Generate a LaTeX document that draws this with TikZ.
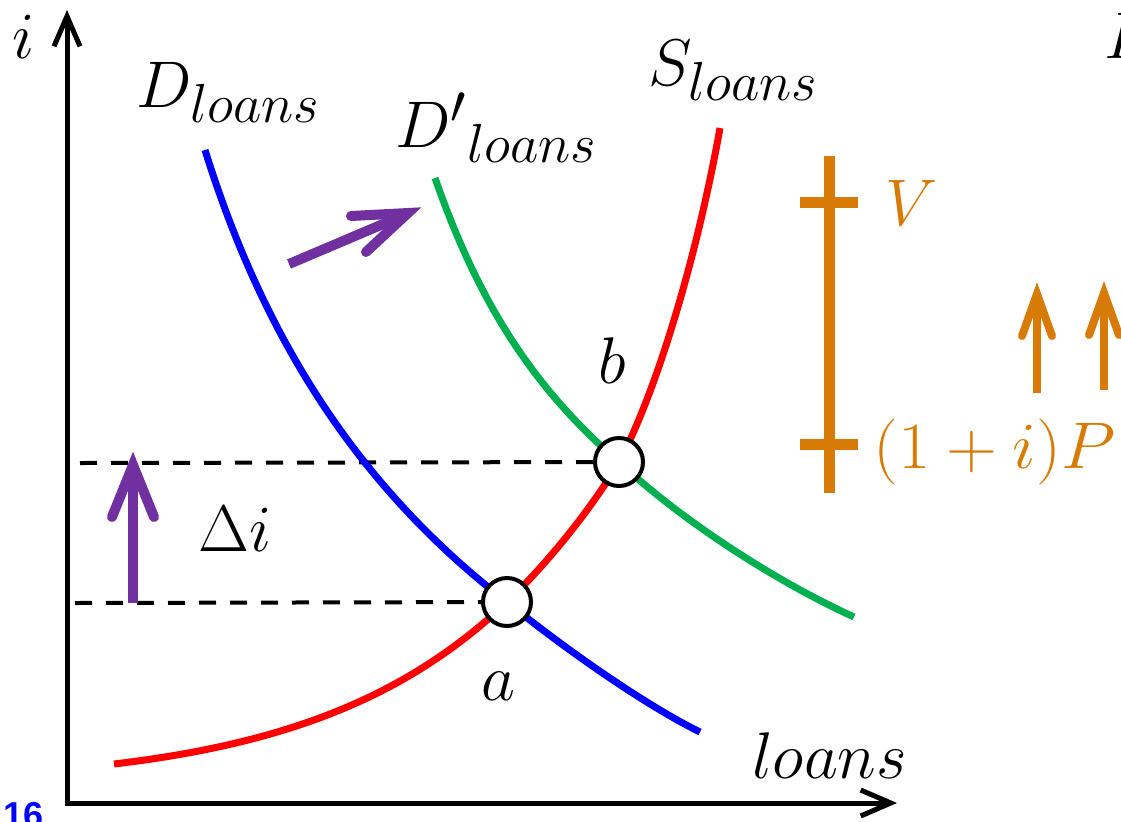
\documentclass[tikz,border=0pt]{standalone}
\usepackage{graphicx}
\usepackage[no-math]{fontspec}
\newfontfamily\numfont{Liberation Sans}
\usetikzlibrary{arrows.meta}
\definecolor{cblue}{RGB}{0,0,255}
\definecolor{cred}{RGB}{255,0,0}
\definecolor{cgreen}{RGB}{0,176,80}
\definecolor{corange}{RGB}{216,123,6}
\definecolor{cpurple}{RGB}{112,48,160}
\definecolor{cnum}{RGB}{0,0,255}
\newcommand{\lblmath}[1]{\scalebox{1.326}{\Huge$#1$}}
\tikzset{
  lbl/.style={inner sep=0pt, anchor=base west},
  axisline/.style={line width=2.5pt, line join=miter,
    {Straight Barb[length=15pt,width=13pt]}-{Straight Barb[length=15pt,width=13pt]}},
  curve/.style={line width=3.5pt},
  dashline/.style={line width=2pt, dash pattern=on 8.5pt off 7pt},
  eqpt/.style={circle, draw=black, fill=white, line width=2pt, minimum size=24pt, inner sep=0pt},
  fatshaft/.style={line width=5pt, color=cpurple},
  fathead/.style={line width=5pt, color=cpurple, line cap=round, line join=miter},
  orshaft/.style={line width=4pt, color=corange},
  orhead/.style={line width=4pt, color=corange, line cap=round, line join=miter},
  orbar/.style={line width=5.5pt, color=corange},
}
\begin{document}
\begin{tikzpicture}[x=0.5pt,y=-0.5pt]
\useasboundingbox (0,0) rectangle (1121,821);

% axes
\coordinate (ytop) at (67,10);
\coordinate (orig) at (67,803);
\coordinate (xend) at (897,803);
\draw[axisline] (ytop) -- (orig) -- (xend);

% axis labels
\node[lbl] (ilab) at (12,58) {\lblmath{i}};
\node[lbl] (xlab) at (752,778) {\lblmath{loans}};

% equilibrium points
\coordinate (A) at (507,602);
\coordinate (B) at (619,462);

% dashed guide lines
\coordinate (dA) at (75,603);
\coordinate (dB) at (80,463);
\draw[dashline] (dA) -- (A);
\draw[dashline] (dB) -- (B);

% demand D (blue)
\draw[curve, cblue] (205,150) .. controls (266,346) and (364,492) .. (A)
  .. controls (574,656) and (651,708) .. (700,732);
% demand D' (green)
\draw[curve, cgreen] (435,178) .. controls (478,301) and (532,387) .. (B)
  .. controls (681,520) and (775,581) .. (854,617);
% supply S (red)
\draw[curve, cred] (114,764) .. controls (292,743) and (410,694) .. (A)
  .. controls (549,562) and (594,505) .. (B)
  .. controls (655,395) and (696,262) .. (720,128);

\node[eqpt] (pa) at (A) {};
\node[eqpt] (pb) at (B) {};

% curve labels
\node[lbl] (dlab) at (136,107) {\lblmath{D_{loans}}};
\node[lbl] (dplab) at (395,147) {\lblmath{{D'}_{loans}}};
\node[lbl] (slab) at (648,85) {\lblmath{S_{loans}}};
\node[lbl, anchor=base] (alab) at (498,700) {\lblmath{a}};
\node[lbl, anchor=base] (blab) at (612,383) {\lblmath{b}};
\node[lbl] (dilab) at (198,551) {\lblmath{\Delta i}};

% purple vertical arrow
\coordinate (v0) at (133,603);
\coordinate (v1) at (133,472);
\coordinate (vt) at (133,465);
\coordinate (vb1) at (112,517);
\coordinate (vb2) at (154,517);
\draw[fatshaft] (v0) -- (v1);
\draw[fathead] (vb1) -- (vt) -- (vb2);

% purple diagonal arrow
\coordinate (g0) at (289,264);
\coordinate (g1) at (402,216);
\coordinate (gt) at (408,213);
\coordinate (gb1) at (351,216);
\coordinate (gb2) at (366,252);
\draw[fatshaft] (g0) -- (g1);
\draw[fathead] (gb1) -- (gt) -- (gb2);

% orange bar
\coordinate (ob0) at (829,156);
\coordinate (ob1) at (829,493);
\draw[orbar] (ob0) -- (ob1);
\coordinate (ot1a) at (800,202);
\coordinate (ot1b) at (858,202);
\coordinate (ot2a) at (800,444);
\coordinate (ot2b) at (858,444);
\draw[orbar] (ot1a) -- (ot1b);
\draw[orbar] (ot2a) -- (ot2b);
\node[lbl, text=corange] (vlab) at (885,225) {\lblmath{V}};
\node[lbl, text=corange] (plab) at (873,468) {\scalebox{1.07}[1]{\lblmath{(1+i)P}}};

% orange arrows
\coordinate (oa0) at (1037,393);
\coordinate (oa1) at (1037,300);
\coordinate (oat) at (1037,294);
\coordinate (oab1) at (1022,336);
\coordinate (oab2) at (1052,336);
\draw[orshaft] (oa0) -- (oa1);
\draw[orhead] (oab1) -- (oat) -- (oab2);
\coordinate (ob0a) at (1104,390);
\coordinate (ob1a) at (1104,299);
\coordinate (obt) at (1104,293);
\coordinate (obb1) at (1089,335);
\coordinate (obb2) at (1119,335);
\draw[orshaft] (ob0a) -- (ob1a);
\draw[orhead] (obb1) -- (obt) -- (obb2);

% cut-off letter at top right
\node[lbl] (pcut) at (1104,58) {\lblmath{P}};

% slide number (partly cut off)
\node[inner sep=0pt, anchor=base west, text=cnum, font=\numfont\bfseries\fontsize{18}{20}\selectfont] (num) at (3,827) {16};
\end{tikzpicture}
\end{document}
